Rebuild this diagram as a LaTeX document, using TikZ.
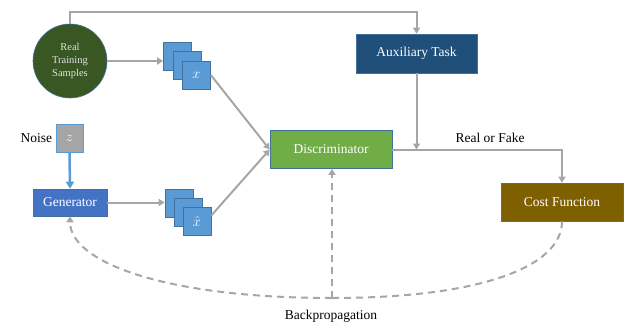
\documentclass[tikz,border=0pt]{standalone}
\usepackage{fontspec}
\setmainfont{Liberation Serif}
\usetikzlibrary{arrows.meta,positioning,calc}
\definecolor{linegray}{HTML}{A6A6A6}
\definecolor{edgeblue}{HTML}{41719C}
\definecolor{realgreen}{HTML}{385723}
\definecolor{auxblue}{HTML}{1F4E79}
\definecolor{discgreen}{HTML}{70AD47}
\definecolor{costbrown}{HTML}{7F6000}
\definecolor{genblue}{HTML}{4472C4}
\definecolor{sqblue}{HTML}{5B9BD5}
\definecolor{noisegray}{HTML}{A5A5A5}
\tikzset{
  lbl/.style={font=\fontsize{13.5}{15}\selectfont, text=black},
  blockbox/.style={draw=edgeblue, line width=0.6pt, minimum width=#1, text=white,
    font=\fontsize{13.5}{15}\selectfont, inner sep=0pt},
  sample/.style={draw=edgeblue, line width=0.6pt, fill=sqblue, minimum size=28pt,
    inner sep=0pt, text=white, font=\fontsize{15}{17}\selectfont},
  flow/.style={draw=linegray, line width=2pt,
    -{Triangle[width=7pt,length=6pt]}},
  backprop/.style={draw=linegray, line width=2pt, dash pattern=on 7pt off 5pt},
}
\begin{document}
\begin{tikzpicture}[x=1pt,y=-1pt]
\useasboundingbox (0,0) rectangle (631,326);

% data source
\node[circle, draw=edgeblue, line width=0.6pt, fill=realgreen, minimum size=74pt,
  inner sep=0pt, text=white!88!black, align=center,
  font=\fontsize{10.5}{13}\selectfont] (real) at (70,61) {Real\\Training\\Samples};

% main blocks
\node[blockbox=121pt, minimum height=39pt, fill=auxblue] (aux) at (416.5,53.5) {Auxiliary Task};
\node[blockbox=122pt, minimum height=38pt, fill=discgreen] (disc) at (331,149.5) {Discriminator};
\node[blockbox=122pt, minimum height=38pt, fill=costbrown] (cost) at (562,202) {Cost Function};
\node[blockbox=74pt, minimum height=27pt, fill=genblue] (gen) at (70,202.5) {Generator};

% noise input
\node[draw=sqblue, line width=0.8pt, fill=noisegray, minimum width=27pt, minimum height=28pt,
  inner sep=0pt, text=white, font=\fontsize{15}{17}\selectfont] (noise) at (69.5,138) {$z$};
\node[lbl, anchor=east] (noiselbl) at (noise.west) {Noise};

% stacks of real and generated samples
\node[sample] (xa) at (177.5,56) {};
\node[sample] (xb) at (187,65.5) {};
\node[sample] (xc) at (196.5,75) {$x$};
\node[sample] (ha) at (179,203) {};
\node[sample] (hb) at (188,212) {};
\node[sample] (hc) at (197,221.5) {$\hat{x}$};

% connectors
\coordinate (topbend) at (70,12);
\draw[flow] (real.north) -- (topbend) -| (aux.north);
\draw[flow] (real.east) -- (real.east -| xa.west);
\draw[flow] (gen.east) -- (gen.east -| ha.west);
\draw[draw=sqblue, line width=2.5pt, -{Triangle[width=8pt,length=7pt]}] (noise.south) -- (gen.north);
\draw[flow] (xc.east) -- (disc.west);
\draw[flow] ($(hc.east)+(0,-6)$) -- (disc.west);
\coordinate (join) at (aux.south |- disc.east);
\draw[flow] (aux.south) -- (join);
\draw[flow] (disc.east) -| (cost.north);
\node[lbl, anchor=south] (rf) at (490,146) {Real or Fake};

% backpropagation paths
\coordinate (bp) at (332,298);
\draw[backprop] (cost.south) .. controls +(0,45) and +(150,0) .. (bp);
\draw[backprop, -{Triangle[width=7pt,length=6pt]}] (bp) .. controls +(-170,0) and +(0,45) .. (gen.south);
\draw[backprop, -{Triangle[width=7pt,length=6pt]}] (bp) -- (bp |- disc.south);
\node[lbl] (bplbl) at (331,316) {Backpropagation};
\end{tikzpicture}
\end{document}
